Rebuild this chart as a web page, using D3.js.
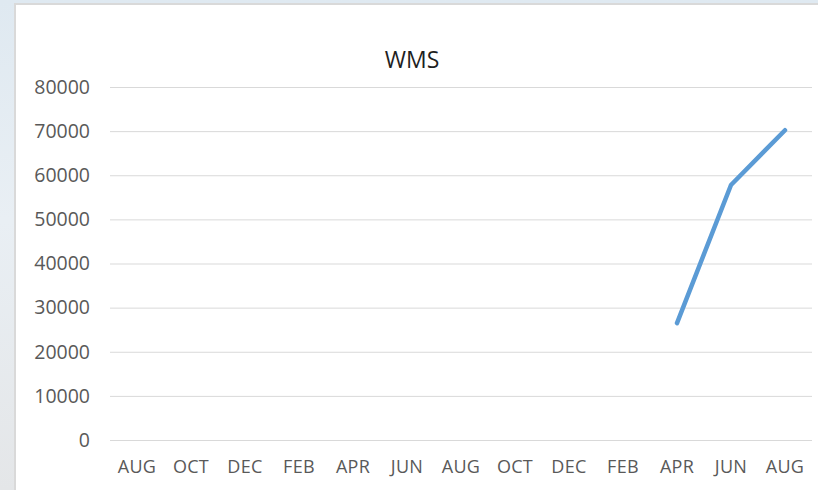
<!DOCTYPE html>
<html>
<head>
<meta charset="utf-8">
<script src="https://cdn.jsdelivr.net/npm/d3@7"></script>
<style>
  html, body { margin: 0; padding: 0; }
  body { width: 818px; height: 490px; overflow: hidden;
         background: linear-gradient(180deg, #dfe9f1 0%, #e9eff4 45%, #e4e6e8 100%); }
  svg { display: block; }
</style>
</head>
<body>
<div id="chart"></div>
<script>
const months = ["AUG", "OCT", "DEC", "FEB", "APR", "JUN", "AUG", "OCT", "DEC", "FEB", "APR", "JUN", "AUG"];
// only the last three months have a value
const wmsValues = [null, null, null, null, null, null, null, null, null, null, 26500, 57800, 70200];
const yTicks = [0, 10000, 20000, 30000, 40000, 50000, 60000, 70000, 80000];

const W = 818, H = 490;
const margin = { top: 87, right: 6, bottom: 50, left: 110 };
const width = W - margin.left - margin.right;
const height = 440 - margin.top;
const font = "'Open Sans', 'Noto Sans', sans-serif";

const svg = d3.select("#chart")
    .append("svg")
    .attr("width", W)
    .attr("height", H);

// chart area box
svg.append("rect")
    .attr("x", 15)
    .attr("y", 4)
    .attr("width", W + 10)
    .attr("height", H + 10)
    .attr("fill", "#ffffff")
    .attr("stroke", "#d9d9d9")
    .attr("stroke-width", 2);

const g = svg.append("g")
    .attr("transform", `translate(${margin.left},${margin.top})`);

const x = d3.scaleBand()
    .domain(d3.range(months.length))
    .range([0, width]);

const y = d3.scaleLinear()
    .domain([0, 80000])
    .range([height, 0]);

// gridlines
g.append("g")
    .selectAll("line")
    .data(yTicks)
    .join("line")
    .attr("x1", 0)
    .attr("x2", width)
    .attr("y1", d => y(d) + 0.5)
    .attr("y2", d => y(d) + 0.5)
    .attr("stroke", "#d9d9d9")
    .attr("stroke-width", 1);

const yAxis = g.append("g")
    .call(d3.axisLeft(y).tickValues(yTicks).tickSize(0).tickPadding(20).tickFormat(d3.format("d")));
yAxis.select(".domain").remove();
yAxis.selectAll("text")
    .attr("fill", "#595959")
    .style("font-family", font)
    .style("font-size", "19.5px");

const xAxis = g.append("g")
    .attr("transform", `translate(0,${height})`)
    .call(d3.axisBottom(x).tickSize(0).tickPadding(20).tickFormat(i => months[i]));
xAxis.select(".domain").remove();
xAxis.selectAll("text")
    .attr("fill", "#595959")
    .style("font-family", font)
    .style("font-size", "18px")
    .style("letter-spacing", "0.3px");

const line = d3.line()
    .defined(d => d != null)
    .x((d, i) => x(i) + x.bandwidth() / 2)
    .y(d => y(d));

g.append("path")
    .datum(wmsValues)
    .attr("fill", "none")
    .attr("stroke", "#5b9bd5")
    .attr("stroke-width", 4.5)
    .attr("stroke-linecap", "round")
    .attr("stroke-linejoin", "round")
    .attr("d", line);

svg.append("text")
    .attr("x", 412)
    .attr("y", 68)
    .attr("text-anchor", "middle")
    .attr("fill", "#1f1f1f")
    .style("font-family", font)
    .style("font-size", "23px")
    .text("WMS");
</script>
</body>
</html>
